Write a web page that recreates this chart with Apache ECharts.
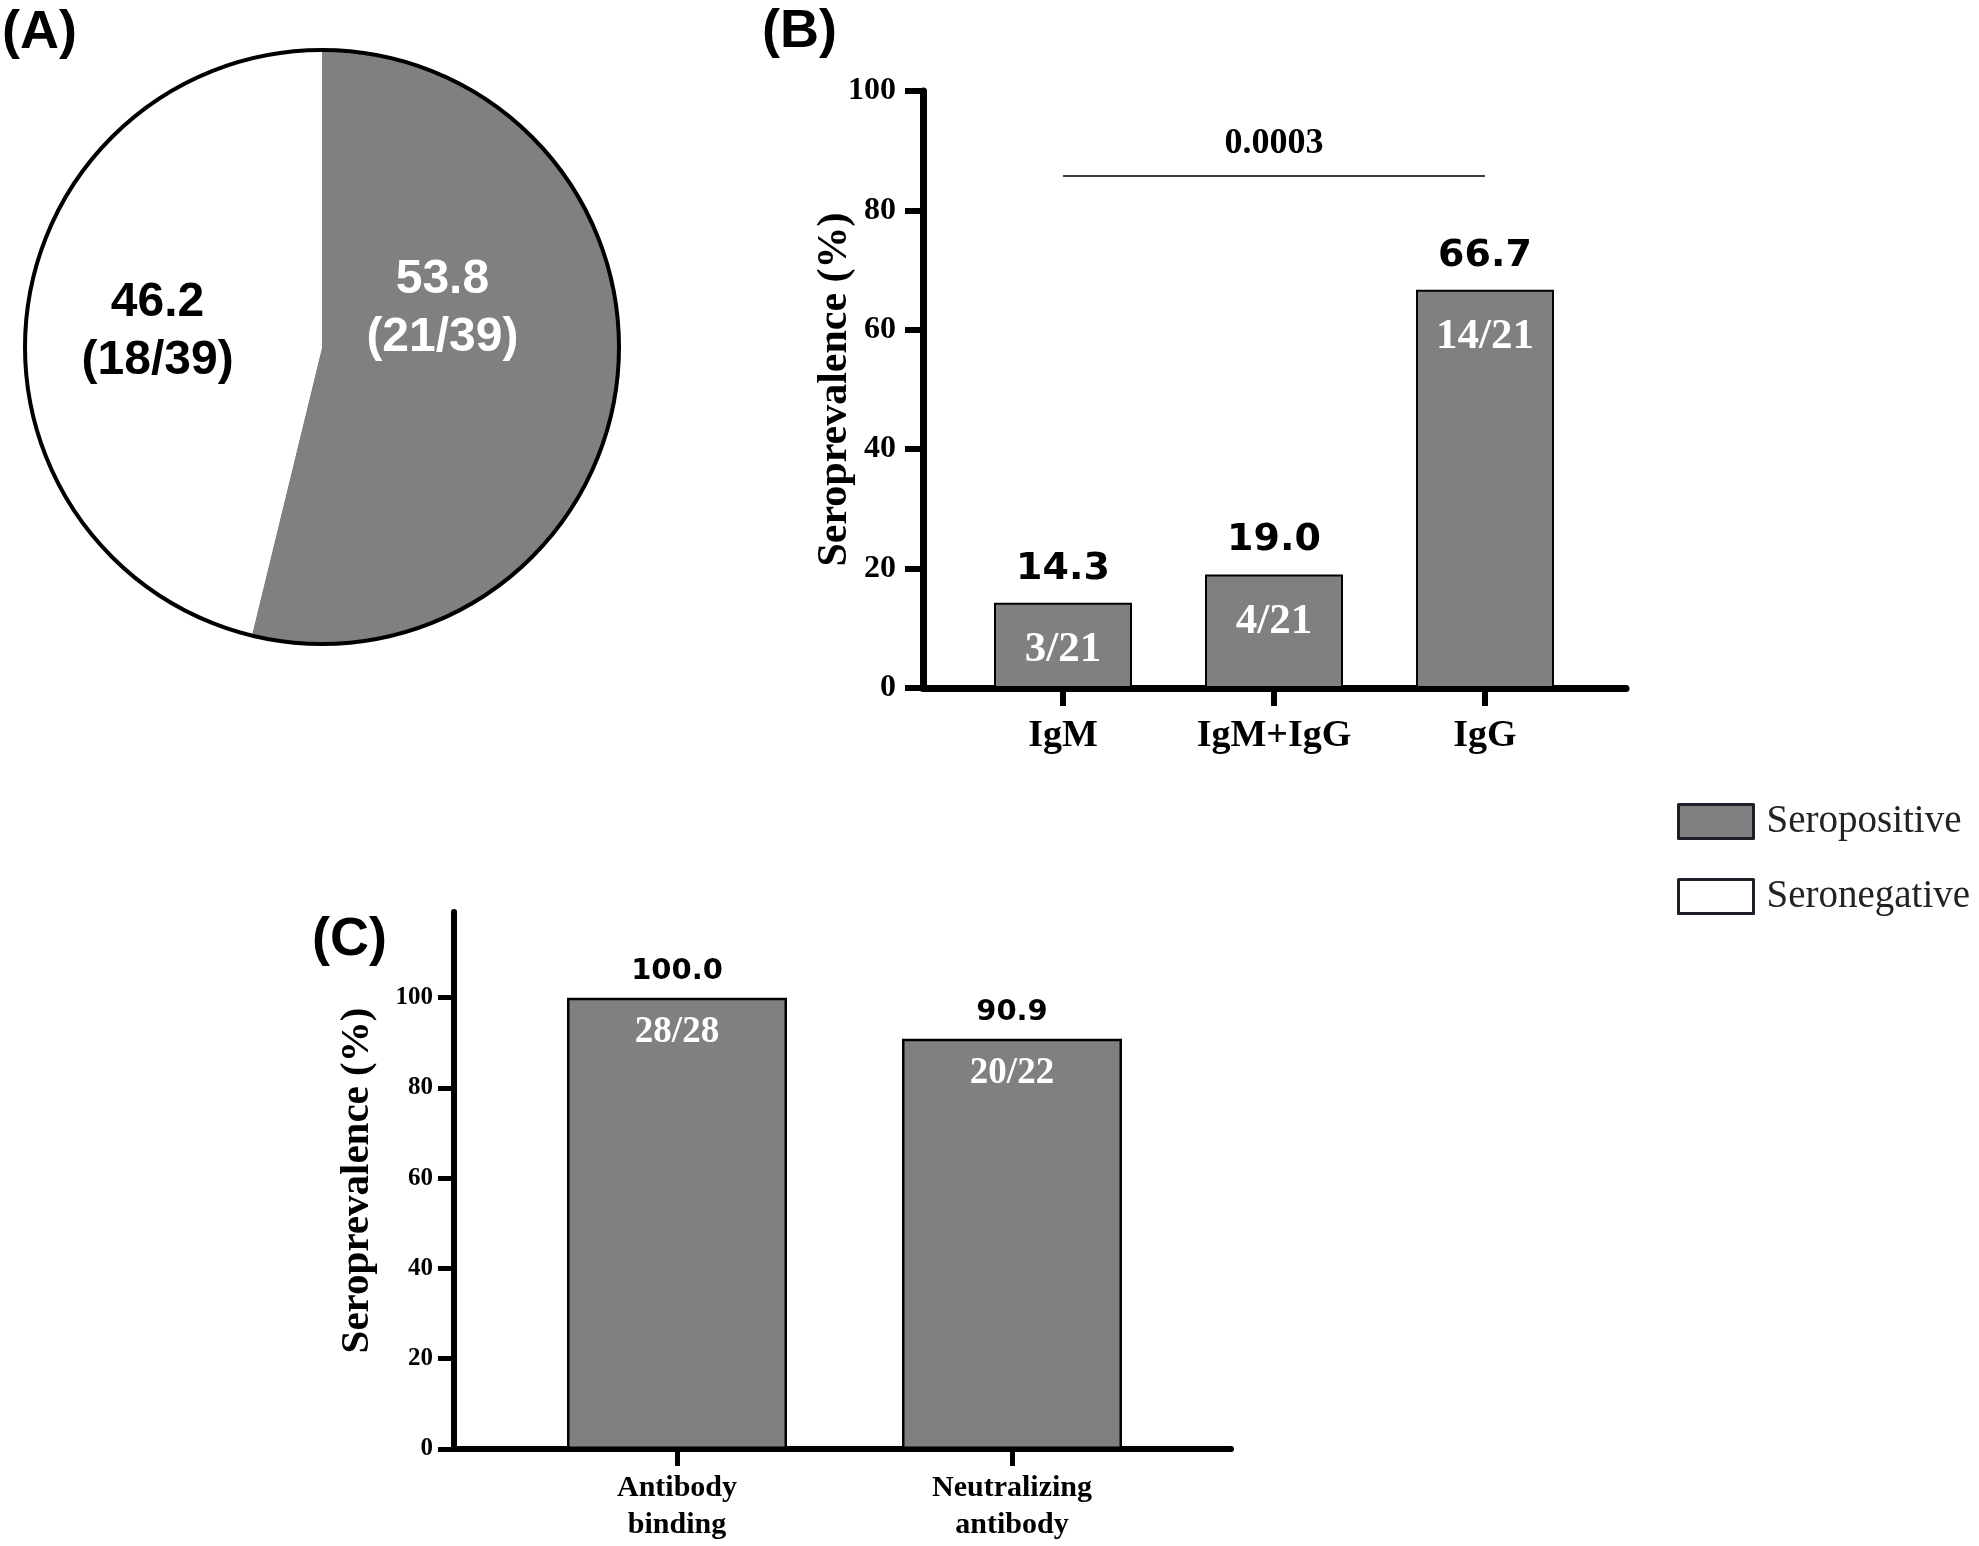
<!DOCTYPE html>
<html>
<head>
<meta charset="utf-8">
<script src="https://cdn.jsdelivr.net/npm/echarts@6/dist/echarts.min.js"></script>
<style>
html,body{margin:0;padding:0;background:#fff;}
#chart{width:1979px;height:1546px;}
</style>
</head>
<body>
<div id="chart"></div>
<script>
// ---------- data ----------
const pieNames = ['Seropositive', 'Seronegative'];
const pieValues = [53.8, 46.2];
const pieCounts = ['21/39', '18/39'];

const bCategories = ['IgM', 'IgM+IgG', 'IgG'];
const bValues = [14.3, 19.0, 66.7];
const bCounts = ['3/21', '4/21', '14/21'];
const bPValue = '0.0003';
const bPLevel = 85.8;

const cCategories = ['Antibody\nbinding', 'Neutralizing\nantibody'];
const cValues = [100.0, 90.9];
const cCounts = ['28/28', '20/22'];

const yTickValues = [0, 20, 40, 60, 80, 100];

// ---------- styles ----------
const GRAY = '#808080';
const SERIF = 'Liberation Serif';
const SANS = 'Liberation Sans';
const pieFill = [GRAY, '#ffffff'];
const pieText = ['#ffffff', '#000000'];
const pieLabelShift = [[-30, -56], [-14, 3]];

const chart = echarts.init(document.getElementById('chart'), null, {renderer: 'canvas'});

const hiddenAxis = (type, gridIndex, extra) => Object.assign({
  type, gridIndex, show: false
}, extra || {});

const titleStyle = {fontFamily: SANS, fontWeight: 'bold', fontSize: 54, color: '#000'};

const option = {
  animation: false,
  backgroundColor: '#fff',
  title: [
    {text: '(A)', left: -3, top: 1, textStyle: titleStyle},
    {text: '(B)', left: 757, top: 0, textStyle: titleStyle},
    {text: '(C)', left: 307, top: 908, textStyle: titleStyle}
  ],
  legend: {
    data: pieNames,
    orient: 'vertical',
    left: 1672,
    top: 797,
    icon: 'rect',
    itemWidth: 75,
    itemHeight: 34,
    itemGap: 36,
    selectedMode: false,
    itemStyle: {borderColor: '#1e1e28', borderWidth: 3},
    textStyle: {fontFamily: SERIF, fontSize: 39, color: '#222', padding: [0, 0, 0, 8]}
  },
  grid: [
    {left: 957.5, top: 91, width: 633, height: 597},
    {left: 923, top: 91, width: 703, height: 597},
    {left: 509.5, top: 912, width: 670, height: 537},
    {left: 454, top: 912, width: 777, height: 537}
  ],
  xAxis: [
    {
      type: 'category', gridIndex: 0, data: bCategories,
      axisLine: {show: false},
      axisTick: {show: true, alignWithLabel: true, length: 18, lineStyle: {color: '#000', width: 6}},
      axisLabel: {margin: 29, fontFamily: SERIF, fontWeight: 'bold', fontSize: 38, color: '#000'},
      splitLine: {show: false}
    },
    {
      type: 'value', gridIndex: 1, min: 0, max: 1,
      axisLine: {show: true, onZero: false, lineStyle: {color: '#000', width: 7}},
      axisTick: {show: false}, axisLabel: {show: false}, splitLine: {show: false}
    },
    {
      type: 'category', gridIndex: 2, data: cCategories,
      axisLine: {show: false},
      axisTick: {show: true, alignWithLabel: true, length: 17, lineStyle: {color: '#000', width: 5}},
      axisLabel: {margin: 21, fontFamily: SERIF, fontWeight: 'bold', fontSize: 30, lineHeight: 37, color: '#000'},
      splitLine: {show: false}
    },
    {
      type: 'value', gridIndex: 3, min: 0, max: 1,
      axisLine: {show: true, onZero: false, lineStyle: {color: '#000', width: 6}},
      axisTick: {show: false}, axisLabel: {show: false}, splitLine: {show: false}
    }
  ],
  yAxis: [
    hiddenAxis('value', 0, {min: 0, max: 100}),
    {
      type: 'value', gridIndex: 1, min: 0, max: 100, interval: 20,
      axisLine: {show: true, onZero: false, lineStyle: {color: '#000', width: 7}},
      axisTick: {show: true, length: 18, lineStyle: {color: '#000', width: 6}},
      axisLabel: {margin: 27, fontFamily: SERIF, fontWeight: 'bold', fontSize: 32, color: '#000'},
      splitLine: {show: false},
      name: 'Seroprevalence (%)', nameLocation: 'middle', nameGap: 67, nameMoveOverlap: false,
      nameTextStyle: {fontFamily: SERIF, fontWeight: 'bold', fontSize: 42, color: '#000'}
    },
    hiddenAxis('value', 2, {min: 0, max: 119}),
    {
      type: 'value', gridIndex: 3, min: 0, max: 119, interval: 20,
      axisLine: {show: true, onZero: false, lineStyle: {color: '#000', width: 6}},
      axisTick: {show: true, length: 16, customValues: yTickValues, lineStyle: {color: '#000', width: 5}},
      axisLabel: {margin: 21, customValues: yTickValues, fontFamily: SERIF, fontWeight: 'bold', fontSize: 25, color: '#000'},
      splitLine: {show: false},
      name: 'Seroprevalence (%)', nameLocation: 'middle', nameGap: 76, nameMoveOverlap: false,
      nameTextStyle: {fontFamily: SERIF, fontWeight: 'bold', fontSize: 41, color: '#000'}
    }
  ],
  series: [
    {
      type: 'pie',
      name: 'Serostatus',
      center: [322, 347],
      radius: [0, 297],
      startAngle: 90,
      clockwise: true,
      avoidLabelOverlap: false,
      silent: true,
      labelLine: {show: false},
      itemStyle: {borderWidth: 0},
      data: pieNames.map((n, i) => ({
        name: n,
        value: pieValues[i],
        itemStyle: {color: pieFill[i]},
        label: {color: pieText[i]}
      })),
      label: {
        show: true,
        position: 'inside',
        formatter: p => p.value.toFixed(1) + '\n(' + pieCounts[p.dataIndex] + ')',
        fontFamily: SANS, fontWeight: 'bold', fontSize: 48, lineHeight: 58
      },
      labelLayout: p => ({dx: pieLabelShift[p.dataIndex][0], dy: pieLabelShift[p.dataIndex][1]})
    },
    {
      type: 'pie',
      name: 'outline',
      center: [322, 347],
      radius: [0, 297],
      silent: true,
      z: 5,
      label: {show: false},
      labelLine: {show: false},
      data: [{value: 1, name: 'outline'}],
      itemStyle: {color: 'rgba(0,0,0,0)', borderColor: '#000', borderWidth: 4}
    },
    {
      type: 'bar',
      name: 'B',
      xAxisIndex: 0, yAxisIndex: 0,
      data: bValues,
      barWidth: 138,
      silent: true,
      itemStyle: {color: GRAY, borderColor: '#000', borderWidth: 2},
      label: {
        show: true, position: 'top', distance: 15,
        formatter: p => p.value.toFixed(1),
        fontFamily: 'DejaVu Sans', fontWeight: 'bold', fontSize: 38, color: '#000'
      },
      markLine: {
        silent: true,
        symbol: 'none',
        lineStyle: {color: '#000', width: 1.5, type: 'solid'},
        label: {
          show: true, position: 'middle', distance: 14,
          formatter: bPValue,
          fontFamily: SERIF, fontWeight: 'bold', fontSize: 36, color: '#000'
        },
        data: [[{coord: [bCategories[0], bPLevel]}, {coord: [bCategories[2], bPLevel]}]]
      }
    },
    {
      type: 'bar',
      name: 'B counts',
      xAxisIndex: 0, yAxisIndex: 0,
      data: bValues,
      barWidth: 138,
      barGap: '-100%',
      silent: true,
      itemStyle: {color: 'rgba(0,0,0,0)'},
      label: {
        show: true, position: 'insideTop', distance: 26,
        formatter: p => bCounts[p.dataIndex],
        fontFamily: SERIF, fontWeight: 'bold', fontSize: 43, color: '#fff'
      }
    },
    {
      type: 'bar',
      name: 'C',
      xAxisIndex: 2, yAxisIndex: 2,
      data: cValues,
      barWidth: 220,
      silent: true,
      itemStyle: {color: GRAY, borderColor: '#000', borderWidth: 2.5},
      label: {
        show: true, position: 'top', distance: 12,
        formatter: p => p.value.toFixed(1),
        fontFamily: 'DejaVu Sans', fontWeight: 'bold', fontSize: 29, color: '#000'
      }
    },
    {
      type: 'bar',
      name: 'C counts',
      xAxisIndex: 2, yAxisIndex: 2,
      data: cValues,
      barWidth: 220,
      barGap: '-100%',
      silent: true,
      itemStyle: {color: 'rgba(0,0,0,0)'},
      label: {
        show: true, position: 'insideTop', distance: 16,
        formatter: p => cCounts[p.dataIndex],
        fontFamily: SERIF, fontWeight: 'bold', fontSize: 37, color: '#fff'
      }
    }
  ]
};

chart.setOption(option);
</script>
</body>
</html>
